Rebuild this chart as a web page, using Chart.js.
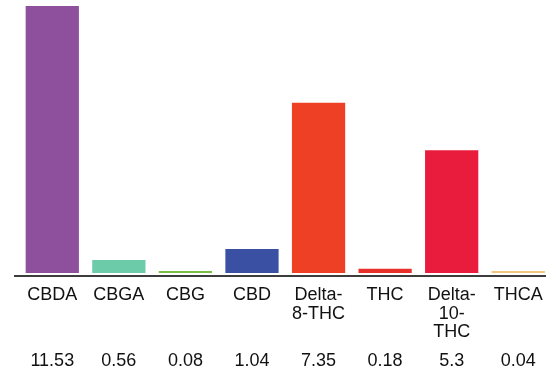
<!DOCTYPE html>
<html>
<head>
<meta charset="utf-8">
<script src="https://cdn.jsdelivr.net/npm/chart.js@4"></script>
<style>
  html, body { margin: 0; padding: 0; background: #fff; }
  #wrap { width: 556px; height: 373px; }
</style>
</head>
<body>
<div id="wrap"><canvas id="myChart" width="556" height="373"></canvas></div>
<script>
var labels = [
  ["CBDA"], ["CBGA"], ["CBG"], ["CBD"],
  ["Delta-", "8-THC"], ["THC"], ["Delta-", "10-", "THC"], ["THCA"]
];
var values = [11.53, 0.56, 0.08, 1.04, 7.35, 0.18, 5.3, 0.04];
var valueLabels = ["11.53", "0.56", "0.08", "1.04", "7.35", "0.18", "5.3", "0.04"];
var colors = ["#8e4f9c", "#6ccba8", "#76c043", "#3a50a2", "#ee4024", "#e8302a", "#e91c3d", "#f2c77c"];

// baseline + value row under the category names
var extras = {
  id: "extras",
  afterDraw: function (chart) {
    var c = chart.ctx;
    var x = chart.scales.x;
    c.save();
    c.strokeStyle = "#3c3c3c";
    c.lineWidth = 2;
    c.beginPath();
    c.moveTo(14, 276);
    c.lineTo(546, 276);
    c.stroke();
    c.fillStyle = "#111";
    c.font = "18px 'Liberation Sans', Arial, sans-serif";
    c.textAlign = "center";
    c.textBaseline = "middle";
    valueLabels.forEach(function (v, i) {
      c.fillText(v, x.getPixelForValue(i), 361);
    });
    c.restore();
  }
};

var ctx = document.getElementById("myChart").getContext("2d");
var chart = new Chart(ctx, {
  type: "bar",
  data: {
    labels: labels,
    datasets: [{
      data: values,
      backgroundColor: colors,
      borderWidth: 0,
      barPercentage: 0.8,
      categoryPercentage: 1.0,
      minBarLength: 2
    }]
  },
  plugins: [extras],
  options: {
    responsive: false,
    animation: false,
    layout: { padding: { top: 6, left: 19, right: 4, bottom: 0 } },
    plugins: { legend: { display: false }, tooltip: { enabled: false } },
    scales: {
      y: {
        display: false,
        min: 0,
        max: 11.53
      },
      x: {
        grid: { display: false, drawTicks: false },
        border: { display: false },
        ticks: {
          color: "#111",
          font: { family: "'Liberation Sans', Arial, sans-serif", size: 18, lineHeight: 1.03 },
          padding: 13,
          maxRotation: 0,
          autoSkip: false
        },
        afterFit: function (s) { s.height = 100; }
      }
    }
  }
});
</script>
</body>
</html>
